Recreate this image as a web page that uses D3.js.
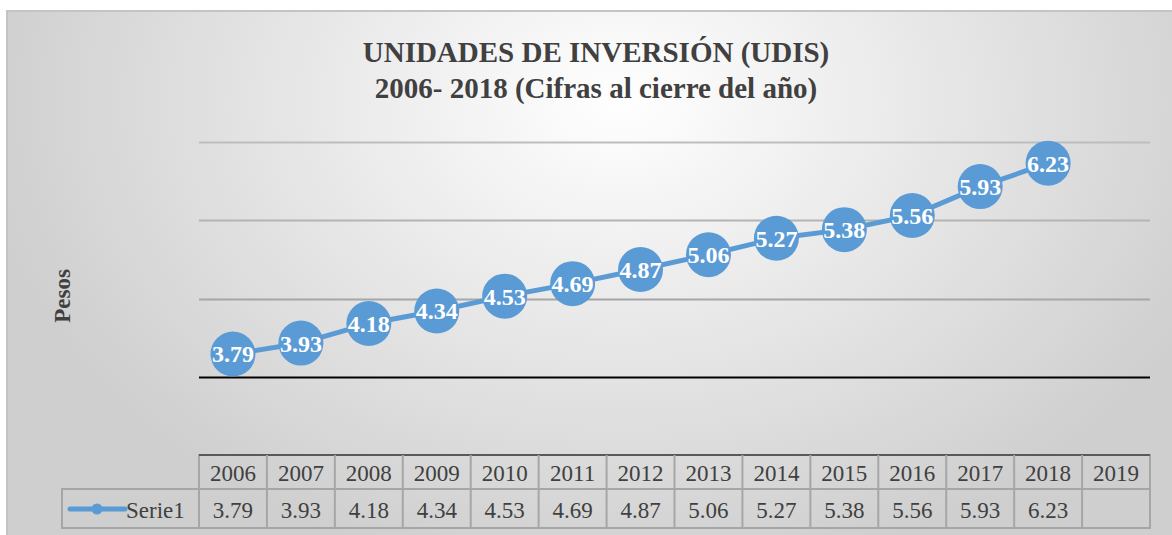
<!DOCTYPE html>
<html>
<head>
<meta charset="utf-8">
<script src="https://cdn.jsdelivr.net/npm/d3@7"></script>
<style>
  html, body { margin: 0; padding: 0; background: #fff; }
  body { width: 1172px; height: 535px; overflow: hidden; }
  svg { display: block; font-family: "Liberation Serif", "Times New Roman", serif; }
</style>
</head>
<body>
<svg></svg>
<script>
const years = ["2006", "2007", "2008", "2009", "2010", "2011", "2012", "2013", "2014", "2015", "2016", "2017", "2018", "2019"];
const values = [3.79, 3.93, 4.18, 4.34, 4.53, 4.69, 4.87, 5.06, 5.27, 5.38, 5.56, 5.93, 6.23, null];
const gridValues = [3.5, 4.5, 5.5, 6.5];
const seriesName = "Serie1";
const titleLines = ["UNIDADES DE INVERSIÓN (UDIS)", "2006- 2018 (Cifras al cierre del año)"];

const width = 1172;
const height = 535;
const plot = { left: 199, right: 1150, top: 142, bottom: 455 };
const textColor = "#404040";
const blue = "#5b9bd5";

const svg = d3.select("svg").attr("width", width).attr("height", height);

// background gradient
const defs = svg.append("defs");
const grad = defs.append("radialGradient")
  .attr("id", "bg")
  .attr("gradientUnits", "userSpaceOnUse")
  .attr("cx", 620).attr("cy", 100).attr("r", 640)
  .attr("gradientTransform", "translate(620,100) scale(1,0.75) translate(-620,-100)");
grad.append("stop").attr("offset", "0%").attr("stop-color", "#ffffff");
grad.append("stop").attr("offset", "100%").attr("stop-color", "#cfcfcf");

svg.append("rect")
  .attr("x", 7).attr("y", 11)
  .attr("width", 1180).attr("height", 540)
  .attr("fill", "url(#bg)")
  .attr("stroke", "#c4c4c4")
  .attr("stroke-width", 2);

const x = d3.scaleBand().domain(years).range([plot.left, plot.right]).padding(0);
const y = d3.scaleLinear().domain([2.5, 6.5]).range([plot.bottom, plot.top]);

// title
svg.append("text")
  .attr("x", 596).attr("y", 62)
  .attr("text-anchor", "middle")
  .attr("font-weight", "bold")
  .attr("font-size", 29)
  .attr("fill", textColor)
  .selectAll("tspan")
  .data(titleLines)
  .enter()
  .append("tspan")
  .attr("x", 596)
  .attr("dy", (d, i) => (i === 0 ? 0 : 36))
  .text(d => d);

// y axis title
svg.append("text")
  .attr("transform", "translate(70, 296) rotate(-90)")
  .attr("text-anchor", "middle")
  .attr("font-weight", "bold")
  .attr("font-size", 23)
  .attr("fill", textColor)
  .text("Pesos");

// gridlines
const gridColors = ["#000000", "#a6a6a6", "#b4b4b4", "#bdbdbd"];
svg.append("g")
  .selectAll("line")
  .data(gridValues)
  .enter()
  .append("line")
  .attr("x1", plot.left)
  .attr("x2", plot.right)
  .attr("y1", d => Math.round(y(d)) + 0.5)
  .attr("y2", d => Math.round(y(d)) + 0.5)
  .attr("stroke", (d, i) => gridColors[i])
  .attr("stroke-width", 2);

// line series
const points = years.map((yr, i) => ({ year: yr, value: values[i] })).filter(d => d.value != null);
const cx = d => x(d.year) + x.bandwidth() / 2;

svg.append("path")
  .datum(points)
  .attr("fill", "none")
  .attr("stroke", blue)
  .attr("stroke-width", 5)
  .attr("stroke-linejoin", "round")
  .attr("d", d3.line().x(cx).y(d => y(d.value)));

const labels = svg.append("g")
  .selectAll("g")
  .data(points)
  .enter()
  .append("g")
  .attr("transform", d => `translate(${cx(d)}, ${y(d.value)})`);

labels.append("circle").attr("r", 22.5).attr("fill", blue);
labels.append("text")
  .attr("text-anchor", "middle")
  .attr("dy", "0.35em")
  .attr("font-weight", "bold")
  .attr("font-size", 24)
  .attr("fill", "#ffffff")
  .text(d => d.value.toFixed(2));

// data table
const rowTop = 455, rowMid = 489, rowBot = 528, legendLeft = 62;
const table = svg.append("g");
const cellStroke = "#a6a6a6";

table.append("rect")
  .attr("x", plot.left).attr("y", rowTop)
  .attr("width", plot.right - plot.left).attr("height", rowBot - rowTop)
  .attr("fill", "none").attr("stroke", cellStroke).attr("stroke-width", 2);
table.append("rect")
  .attr("x", legendLeft).attr("y", rowMid)
  .attr("width", plot.left - legendLeft).attr("height", rowBot - rowMid)
  .attr("fill", "none").attr("stroke", cellStroke).attr("stroke-width", 2);
table.append("line")
  .attr("x1", plot.left).attr("x2", plot.right)
  .attr("y1", rowMid).attr("y2", rowMid)
  .attr("stroke", cellStroke).attr("stroke-width", 2);
table.append("line")
  .attr("x1", plot.left).attr("x2", plot.right)
  .attr("y1", rowTop).attr("y2", rowTop)
  .attr("stroke", "#595959").attr("stroke-width", 2);
table.selectAll(".col")
  .data(years.slice(1))
  .enter()
  .append("line")
  .attr("x1", d => x(d)).attr("x2", d => x(d))
  .attr("y1", rowTop).attr("y2", rowBot)
  .attr("stroke", cellStroke).attr("stroke-width", 2);

table.selectAll(".yr")
  .data(years)
  .enter()
  .append("text")
  .attr("x", d => x(d) + x.bandwidth() / 2)
  .attr("y", 481)
  .attr("text-anchor", "middle")
  .attr("font-size", 23)
  .attr("fill", textColor)
  .text(d => d);

table.selectAll(".val")
  .data(years.map((yr, i) => ({ year: yr, value: values[i] })).filter(d => d.value != null))
  .enter()
  .append("text")
  .attr("x", d => x(d.year) + x.bandwidth() / 2)
  .attr("y", 518)
  .attr("text-anchor", "middle")
  .attr("font-size", 23)
  .attr("fill", textColor)
  .text(d => d.value.toFixed(2));

// legend key
table.append("line")
  .attr("x1", 70).attr("x2", 125)
  .attr("y1", 509).attr("y2", 509)
  .attr("stroke", blue).attr("stroke-width", 5).attr("stroke-linecap", "round");
table.append("circle").attr("cx", 97).attr("cy", 509).attr("r", 5.5).attr("fill", blue);
table.append("text")
  .attr("x", 126).attr("y", 518)
  .attr("font-size", 23)
  .attr("fill", textColor)
  .text(seriesName);
</script>
</body>
</html>
